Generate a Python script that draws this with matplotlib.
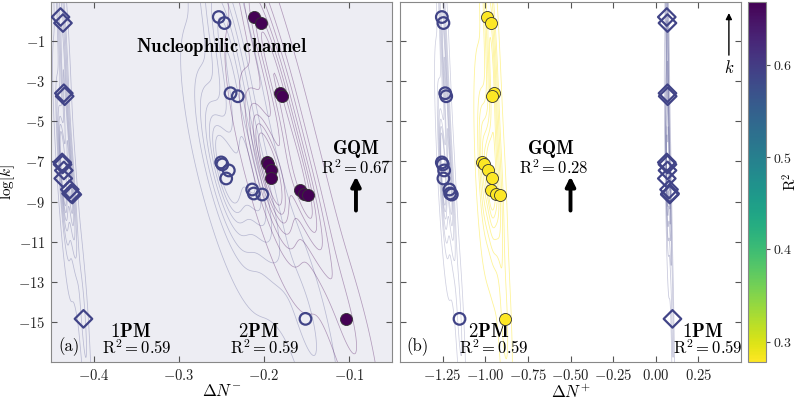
import numpy as np
import matplotlib
matplotlib.use("Agg")
import matplotlib.pyplot as plt
import seaborn as sns
from matplotlib.colors import Normalize
from matplotlib.cm import ScalarMappable

plt.rcParams['font.family'] = 'serif'
plt.rcParams['font.serif'] = ['cmr10']
plt.rcParams['mathtext.fontset'] = 'cm'
plt.rcParams['axes.formatter.use_mathtext'] = True
plt.rcParams['axes.unicode_minus'] = True

# ---------------- data ----------------
logk = [0.2, -0.1, -3.6, -3.75, -7.05, -7.15, -7.45, -7.85, -8.4, -8.6, -8.65, -14.85]

# nucleophilic channel (Delta N^-)
nuc_1pm = [-0.4394, -0.4365, -0.4355, -0.4345, -0.4375, -0.4370, -0.4355, -0.4362, -0.4285, -0.4270, -0.4255, -0.4124]
nuc_2pm = [-0.2532, -0.2465, -0.2394, -0.2308, -0.2504, -0.2490, -0.2414, -0.2445, -0.2139, -0.2120, -0.2021, -0.1512]
nuc_gqm = [-0.2112, -0.2033, -0.1806, -0.1786, -0.1962, -0.1950, -0.1915, -0.1912, -0.1579, -0.1532, -0.1485, -0.1038]

# electrophilic channel (Delta N^+)
ele_2pm = [-1.2547, -1.2453, -1.2350, -1.2290, -1.2547, -1.2490, -1.2410, -1.2453, -1.2100, -1.2060, -1.1960, -1.1510]
ele_gqm = [-0.9900, -0.9665, -0.9470, -0.9610, -1.0190, -1.0060, -0.9810, -0.9610, -0.9665, -0.9350, -0.9160, -0.8865]
ele_1pm = [0.0647, 0.0688, 0.0688, 0.0700, 0.0647, 0.0688, 0.0690, 0.0647, 0.0780, 0.0840, 0.0820, 0.0980]

r2_1pm = 0.59
r2_2pm = 0.59
r2_gqm_nuc = 0.668
r2_gqm_ele = 0.278

cbar_ticks = [0.3, 0.4, 0.5, 0.6]

# ---------------- figure ----------------
fig = plt.figure(figsize=(8.0, 3.98), dpi=100)
ax1 = fig.add_axes([0.06375, 0.0905, 0.42625, 0.9045])
ax2 = fig.add_axes([0.5, 0.0905, 0.42625, 0.9045])
cax = fig.add_axes([0.935, 0.0905, 0.0225, 0.9045])

cmap = plt.get_cmap('viridis_r')
norm = Normalize(vmin=r2_gqm_ele, vmax=r2_gqm_nuc)

ax1.set_facecolor('#ededf3')

def kde(ax, x, y, r2, bw=1.0, lv=8, a=0.35):
    sns.kdeplot(x=x, y=y, ax=ax, color=cmap(norm(r2)), linewidths=0.55,
                alpha=a, bw_adjust=bw, levels=lv, thresh=0.02)

def pts(ax, x, y, r2, marker, filled):
    c = cmap(norm(r2))
    if filled:
        ax.scatter(x, y, s=75, marker=marker, facecolor=c, edgecolor='#333333',
                   linewidths=0.6, zorder=5)
    else:
        ax.scatter(x, y, s=70 if marker == 'o' else 80, marker=marker,
                   facecolor='none', edgecolor=c, linewidths=1.6, zorder=5)

# panel (a)
kde(ax1, nuc_1pm, logk, r2_1pm, bw=0.9, a=0.3)
kde(ax1, nuc_2pm, logk, r2_2pm, bw=1.0, a=0.3)
kde(ax1, nuc_gqm, logk, r2_gqm_nuc, bw=1.0, a=0.35)
pts(ax1, nuc_1pm, logk, r2_1pm, 'D', False)
pts(ax1, nuc_2pm, logk, r2_2pm, 'o', False)
pts(ax1, nuc_gqm, logk, r2_gqm_nuc, 'o', True)

# panel (b)
kde(ax2, ele_2pm, logk, r2_2pm, bw=0.9, a=0.25)
kde(ax2, ele_gqm, logk, r2_gqm_ele, bw=0.9, a=0.5)
kde(ax2, ele_1pm, logk, r2_1pm, bw=0.9, a=0.3)
pts(ax2, ele_2pm, logk, r2_2pm, 'o', False)
pts(ax2, ele_gqm, logk, r2_gqm_ele, 'o', True)
pts(ax2, ele_1pm, logk, r2_1pm, 'D', False)

yt = [-1, -3, -5, -7, -9, -11, -13, -15]
for ax in (ax1, ax2):
    ax.set_ylim(-17, 0.95)
    ax.set_yticks(yt)
    ax.tick_params(direction='in', length=4, width=0.8, top=True, right=True,
                   labelsize=10.5, colors='#555555', labelcolor='#222222', pad=4)
    for s in ax.spines.values():
        s.set_color('#888888')
        s.set_linewidth(0.8)
    ax.set_xlabel('')
    ax.set_ylabel('')

ax1.set_xlim(-0.4506, -0.0494)
ax1.set_xticks([-0.4, -0.3, -0.2, -0.1])
ax2.set_xlim(-1.5, 0.5)
ax2.set_xticks([-1.25, -1.0, -0.75, -0.5, -0.25, 0.0, 0.25])
ax2.set_xticklabels(['$-1.25$', '$-1.00$', '$-0.75$', '$-0.50$', '$-0.25$', '$0.00$', '$0.25$'])
ax2.tick_params(labelleft=False)

ax1.set_xlabel(r'$\Delta N^{-}$', fontsize=12, labelpad=0)
ax2.set_xlabel(r'$\Delta N^{+}$', fontsize=12, labelpad=0)
ax1.set_ylabel(r'$\log[k]$', fontsize=11, labelpad=1)

fb = 13.5
fr = 12
# labels panel (a)
ax1.text(-0.25, -1.3, r'$\mathbf{Nucleophilic\ channel}$', ha='center', va='center', fontsize=13.5)
ax1.text(-0.092, -6.4, r'$\mathbf{GQM}$', ha='center', va='center', fontsize=fb)
ax1.text(-0.092, -7.3, r'$\mathrm{R}^2 = %.2f$' % r2_gqm_nuc, ha='center', va='center', fontsize=fr)
ax1.text(-0.357, -15.5, r'$\mathbf{1PM}$', ha='center', va='center', fontsize=fb)
ax1.text(-0.350, -16.3, r'$\mathrm{R}^2 = %.2f$' % r2_1pm, ha='center', va='center', fontsize=fr)
ax1.text(-0.2065, -15.5, r'$\mathbf{2PM}$', ha='center', va='center', fontsize=fb)
ax1.text(-0.199, -16.3, r'$\mathrm{R}^2 = %.2f$' % r2_2pm, ha='center', va='center', fontsize=fr)
ax1.text(-0.430, -16.25, '(a)', ha='center', va='center', fontsize=12)
ax1.annotate('', xy=(-0.0918, -7.75), xytext=(-0.0918, -9.45),
             arrowprops=dict(arrowstyle='-|>', lw=2.8, color='k', mutation_scale=14,
                             shrinkA=0, shrinkB=0))

# labels panel (b)
ax2.text(-0.612, -6.4, r'$\mathbf{GQM}$', ha='center', va='center', fontsize=fb)
ax2.text(-0.600, -7.3, r'$\mathrm{R}^2 = %.2f$' % r2_gqm_ele, ha='center', va='center', fontsize=fr)
ax2.text(-0.982, -15.5, r'$\mathbf{2PM}$', ha='center', va='center', fontsize=fb)
ax2.text(-0.947, -16.3, r'$\mathrm{R}^2 = %.2f$' % r2_2pm, ha='center', va='center', fontsize=fr)
ax2.text(0.276, -15.5, r'$\mathbf{1PM}$', ha='center', va='center', fontsize=fb)
ax2.text(0.306, -16.3, r'$\mathrm{R}^2 = %.2f$' % r2_1pm, ha='center', va='center', fontsize=fr)
ax2.text(-1.40, -16.25, '(b)', ha='center', va='center', fontsize=12)
ax2.annotate('', xy=(-0.5, -7.75), xytext=(-0.5, -9.45),
             arrowprops=dict(arrowstyle='-|>', lw=2.8, color='k', mutation_scale=14,
                             shrinkA=0, shrinkB=0))
ax2.annotate('', xy=(0.429, 0.4), xytext=(0.429, -1.7),
             arrowprops=dict(arrowstyle='-|>', lw=1.0, color='k', mutation_scale=9,
                             shrinkA=0, shrinkB=0))
ax2.text(0.429, -2.3, r'$k$', ha='center', va='center', fontsize=12)

# colorbar
sm = ScalarMappable(norm=norm, cmap=cmap)
cb = fig.colorbar(sm, cax=cax)
cb.set_ticks(cbar_ticks)
cb.set_ticklabels(['$0.3$', '$0.4$', '$0.5$', '$0.6$'])
cb.ax.tick_params(labelsize=10, length=3, width=0.8, pad=2, colors='#555555', labelcolor='#222222')
cb.outline.set_edgecolor('#888888')
cb.outline.set_linewidth(0.8)
cb.set_label(r'$\mathrm{R}^2$', fontsize=11)
cb.ax.yaxis.label.set_va('center')
cb.ax.yaxis.set_label_coords(2.35, 0.5)

fig.savefig('out.png', dpi=100)
